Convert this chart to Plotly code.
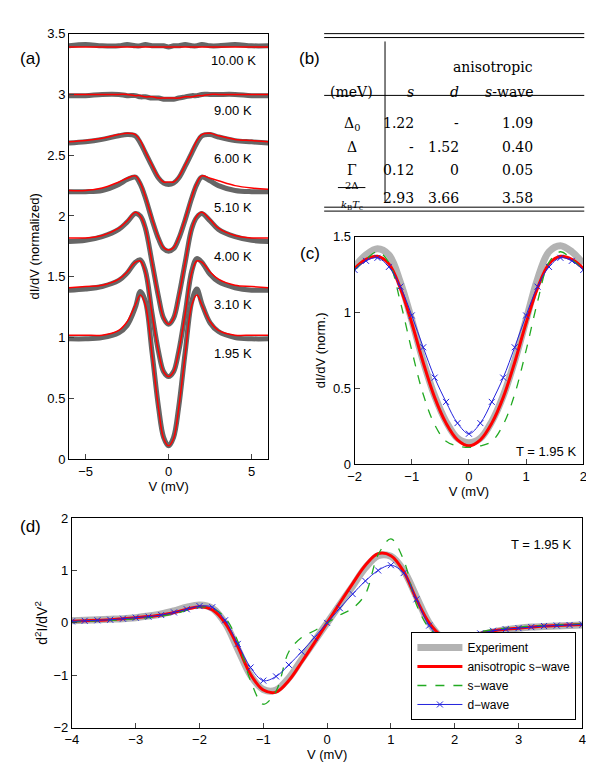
import plotly.graph_objects as go

# ---- panel (a): dI/dV spectra at several temperatures (offset) ----
va = [-6, -5, -4, -3, -2.5, -2, -1.7, -1.4, -1, -0.6, -0.3, 0, 0.3, 0.6, 1, 1.4, 1.7, 2, 2.5, 3, 4, 5, 6]
temps = ["10.00 K", "9.00 K", "6.00 K", "5.10 K", "4.00 K", "3.10 K", "1.95 K"]
label_y = [3.28, 2.87, 2.47, 2.07, 1.67, 1.27, 0.87]
exp_a = [
    [3.40, 3.41, 3.40, 3.40, 3.41, 3.40, 3.40, 3.41, 3.40, 3.40, 3.40, 3.39, 3.40, 3.40, 3.41, 3.40, 3.40, 3.41, 3.40, 3.40, 3.41, 3.40, 3.40],
    [2.99, 2.99, 3.00, 3.00, 2.99, 2.99, 2.98, 2.98, 2.97, 2.97, 2.96, 2.96, 2.96, 2.97, 2.98, 2.99, 2.99, 3.00, 3.00, 3.00, 3.00, 2.99, 2.99],
    [2.60, 2.61, 2.63, 2.66, 2.67, 2.66, 2.60, 2.52, 2.41, 2.31, 2.27, 2.26, 2.27, 2.31, 2.41, 2.52, 2.60, 2.66, 2.67, 2.65, 2.62, 2.61, 2.60],
    [2.20, 2.20, 2.21, 2.26, 2.30, 2.32, 2.26, 2.15, 1.97, 1.81, 1.73, 1.71, 1.73, 1.81, 1.97, 2.15, 2.26, 2.32, 2.29, 2.25, 2.21, 2.20, 2.20],
    [1.79, 1.80, 1.83, 1.89, 1.95, 2.02, 2.00, 1.90, 1.62, 1.33, 1.16, 1.11, 1.16, 1.33, 1.62, 1.90, 1.99, 2.02, 1.96, 1.89, 1.83, 1.80, 1.79],
    [1.39, 1.40, 1.42, 1.47, 1.53, 1.62, 1.64, 1.55, 1.20, 0.88, 0.72, 0.68, 0.72, 0.88, 1.20, 1.55, 1.65, 1.62, 1.52, 1.46, 1.41, 1.39, 1.39],
    [0.99, 0.99, 1.00, 1.04, 1.10, 1.25, 1.38, 1.30, 0.88, 0.42, 0.18, 0.11, 0.18, 0.42, 0.88, 1.30, 1.40, 1.28, 1.12, 1.05, 1.00, 0.99, 0.99],
]
fit_a = [
    [3.39] * 23,
    [3.00, 3.00, 3.00, 3.00, 3.00, 2.99, 2.99, 2.98, 2.98, 2.97, 2.97, 2.97, 2.97, 2.97, 2.98, 2.98, 2.99, 2.99, 3.00, 3.00, 3.00, 3.00, 3.00],
    [2.61, 2.62, 2.64, 2.67, 2.68, 2.67, 2.62, 2.53, 2.42, 2.32, 2.28, 2.28, 2.28, 2.32, 2.42, 2.53, 2.62, 2.67, 2.68, 2.66, 2.63, 2.62, 2.61],
    [2.21, 2.21, 2.23, 2.28, 2.31, 2.33, 2.27, 2.16, 1.98, 1.82, 1.74, 1.72, 1.74, 1.82, 1.98, 2.16, 2.27, 2.33, 2.31, 2.29, 2.25, 2.23, 2.22],
    [1.82, 1.82, 1.84, 1.90, 1.96, 2.03, 2.00, 1.90, 1.62, 1.33, 1.16, 1.11, 1.16, 1.33, 1.62, 1.90, 2.00, 2.03, 1.97, 1.90, 1.84, 1.82, 1.82],
    [1.41, 1.42, 1.43, 1.48, 1.54, 1.62, 1.63, 1.54, 1.20, 0.88, 0.72, 0.68, 0.72, 0.88, 1.20, 1.54, 1.63, 1.62, 1.54, 1.48, 1.43, 1.42, 1.41],
    [1.02, 1.02, 1.02, 1.06, 1.13, 1.27, 1.35, 1.27, 0.86, 0.41, 0.17, 0.11, 0.17, 0.41, 0.86, 1.27, 1.35, 1.27, 1.13, 1.06, 1.02, 1.02, 1.02],
]

# ---- panel (c): 1.95 K spectrum and fits ----
vc = [-2, -1.8, -1.6, -1.4, -1.2, -1, -0.8, -0.6, -0.4, -0.2, 0, 0.2, 0.4, 0.6, 0.8, 1, 1.2, 1.4, 1.6, 1.8, 2]
exp_c = [1.30, 1.38, 1.42, 1.38, 1.20, 0.95, 0.68, 0.45, 0.28, 0.17, 0.14, 0.17, 0.28, 0.45, 0.68, 0.95, 1.22, 1.40, 1.44, 1.40, 1.32]
aniso_c = [1.29, 1.35, 1.37, 1.32, 1.16, 0.93, 0.67, 0.44, 0.27, 0.16, 0.12, 0.16, 0.27, 0.44, 0.67, 0.93, 1.16, 1.32, 1.37, 1.35, 1.29]
swave_c = [1.28, 1.35, 1.40, 1.33, 1.07, 0.75, 0.46, 0.26, 0.15, 0.12, 0.11, 0.12, 0.15, 0.26, 0.46, 0.75, 1.07, 1.33, 1.40, 1.35, 1.28]
dwave_c = [1.28, 1.34, 1.36, 1.30, 1.17, 0.98, 0.77, 0.57, 0.41, 0.27, 0.20, 0.27, 0.41, 0.57, 0.77, 0.98, 1.17, 1.30, 1.36, 1.34, 1.28]

# ---- panel (d): d2I/dV2 ----
vd = [-4, -3.8, -3.6, -3.4, -3.2, -3, -2.8, -2.6, -2.4, -2.2, -2, -1.8, -1.6, -1.4, -1.2, -1, -0.8, -0.6, -0.4, -0.2, 0,
      0.2, 0.4, 0.6, 0.8, 1, 1.2, 1.4, 1.6, 1.8, 2, 2.2, 2.4, 2.6, 2.8, 3, 3.2, 3.4, 3.6, 3.8, 4]
exp_d = [0.04, 0.05, 0.06, 0.07, 0.08, 0.10, 0.13, 0.17, 0.23, 0.30, 0.34, 0.28, 0.0, -0.5, -1.0, -1.27, -1.28, -1.05, -0.7, -0.35, 0,
         0.35, 0.7, 1.05, 1.28, 1.27, 1.0, 0.5, 0.0, -0.28, -0.34, -0.30, -0.23, -0.17, -0.13, -0.10, -0.08, -0.07, -0.06, -0.05, -0.04]
aniso_d = [0.03, 0.04, 0.05, 0.06, 0.08, 0.10, 0.12, 0.15, 0.20, 0.26, 0.31, 0.25, 0.0, -0.45, -0.98, -1.28, -1.32, -1.10, -0.75, -0.38, 0,
           0.38, 0.75, 1.10, 1.32, 1.28, 0.98, 0.45, 0.0, -0.25, -0.31, -0.26, -0.20, -0.15, -0.12, -0.10, -0.08, -0.06, -0.05, -0.04, -0.03]
swave_d = [0.02, 0.03, 0.04, 0.05, 0.06, 0.08, 0.10, 0.13, 0.17, 0.24, 0.30, 0.28, 0.10, -0.35, -1.1, -1.55, -1.30, -0.55, -0.28, -0.15, 0,
           0.15, 0.28, 0.55, 1.30, 1.60, 1.20, 0.35, -0.10, -0.28, -0.30, -0.24, -0.17, -0.13, -0.10, -0.08, -0.06, -0.05, -0.04, -0.03, -0.02]
dwave_d = [0.03, 0.04, 0.05, 0.06, 0.08, 0.10, 0.12, 0.15, 0.20, 0.26, 0.32, 0.30, 0.05, -0.40, -0.85, -1.10, -1.02, -0.80, -0.55, -0.28, 0,
           0.28, 0.55, 0.80, 1.00, 1.10, 0.95, 0.45, -0.05, -0.30, -0.32, -0.26, -0.20, -0.15, -0.12, -0.10, -0.08, -0.06, -0.05, -0.04, -0.03]

# ---- panel (b): table ----
tbl_cols = ["(meV)", "<i>s</i>", "<i>d</i>", "<i>s</i>-wave"]
tbl_rows = ["Δ<sub>0</sub>", "Δ", "Γ"]
tbl_vals = [["1.22", "-", "1.09"], ["-", "1.52", "0.40"], ["0.12", "0", "0.05"], ["2.93", "3.66", "3.58"]]

W, H = 594.0, 769.0


# pixel positions measured on the target -> paper coords
def px(p):
    return p / W


def py(p):
    return 1 - p / H


GRAY = "#666666"
LGRAY = "#b3b3b3"
fig = go.Figure()

for i, t in enumerate(temps):
    fig.add_trace(go.Scatter(x=va, y=exp_a[i], mode="lines", line=dict(color=GRAY, width=5, shape="spline"),
                             showlegend=False, xaxis="x", yaxis="y"))
    fig.add_trace(go.Scatter(x=va, y=fit_a[i], mode="lines", line=dict(color="red", width=1.5, shape="spline"),
                             showlegend=False, xaxis="x", yaxis="y"))
    fig.add_annotation(x=3.9, y=label_y[i], xref="x", yref="y", text=t, showarrow=False,
                       font=dict(size=13, color="black"), bgcolor="white")

fig.add_trace(go.Scatter(x=vc, y=exp_c, mode="lines", line=dict(color=LGRAY, width=7, shape="spline"),
                         showlegend=False, xaxis="x2", yaxis="y2"))
fig.add_trace(go.Scatter(x=vc, y=aniso_c, mode="lines", line=dict(color="red", width=3, shape="spline"),
                         showlegend=False, xaxis="x2", yaxis="y2"))
fig.add_trace(go.Scatter(x=vc, y=swave_c, mode="lines", line=dict(color="#22aa22", width=1.3, dash="dash", shape="spline"),
                         showlegend=False, xaxis="x2", yaxis="y2"))
fig.add_trace(go.Scatter(x=vc, y=dwave_c, mode="lines+markers", line=dict(color="#2222dd", width=1, shape="spline"),
                         marker=dict(symbol="x-thin", size=6, line=dict(color="#2222dd", width=1)),
                         showlegend=False, xaxis="x2", yaxis="y2"))

fig.add_trace(go.Scatter(x=vd, y=exp_d, mode="lines", name="Experiment", line=dict(color=LGRAY, width=7, shape="spline"),
                         xaxis="x3", yaxis="y3"))
fig.add_trace(go.Scatter(x=vd, y=aniso_d, mode="lines", name="anisotropic s−wave", line=dict(color="red", width=3, shape="spline"),
                         xaxis="x3", yaxis="y3"))
fig.add_trace(go.Scatter(x=vd, y=swave_d, mode="lines", name="s−wave", line=dict(color="#22aa22", width=1.3, dash="dash", shape="spline"),
                         xaxis="x3", yaxis="y3"))
fig.add_trace(go.Scatter(x=vd, y=dwave_d, mode="lines+markers", name="d−wave", line=dict(color="#2222dd", width=1, shape="spline"),
                         marker=dict(symbol="x-thin", size=6, line=dict(color="#2222dd", width=1)),
                         xaxis="x3", yaxis="y3"))

ax = dict(showline=True, mirror=True, linecolor="black", linewidth=1, ticks="inside", ticklen=5,
          showgrid=False, zeroline=False, tickfont=dict(size=13, color="black"))
fig.update_layout(
    width=594, height=769, plot_bgcolor="white", paper_bgcolor="white",
    margin=dict(l=0, r=0, t=0, b=0),
    font=dict(family="Liberation Sans, Arial", color="black"),
    xaxis=dict(ax, domain=[px(55), px(258)], range=[-6, 6], tickvals=[-5, 0, 5], ticktext=["−5", "0", "5"],
               title=dict(text="V (mV)", font=dict(size=13), standoff=4), anchor="y"),
    yaxis=dict(ax, domain=[py(453), py(19)], range=[0, 3.5], dtick=0.5,
               title=dict(text="dI/dV (normalized)", font=dict(size=13), standoff=4), anchor="x"),
    xaxis2=dict(ax, domain=[px(346), px(579)], range=[-2, 2], tickvals=[-2, -1, 0, 1, 2], ticktext=["−2", "−1", "0", "1", "2"],
                title=dict(text="V (mV)", font=dict(size=13), standoff=4), anchor="y2"),
    yaxis2=dict(ax, domain=[py(458), py(226)], range=[0, 1.5], tickvals=[0, 0.5, 1, 1.5],
                title=dict(text="dI/dV (norm.)", font=dict(size=13), standoff=4), anchor="x2"),
    xaxis3=dict(ax, domain=[px(58), px(578)], range=[-4, 4],
                tickvals=[-4, -3, -2, -1, 0, 1, 2, 3, 4], ticktext=["−4", "−3", "−2", "−1", "0", "1", "2", "3", "4"],
                title=dict(text="V (mV)", font=dict(size=13), standoff=2), anchor="y3"),
    yaxis3=dict(ax, domain=[py(727), py(513)], range=[-2, 2], tickvals=[-2, -1, 0, 1, 2], ticktext=["−2", "−1", "0", "1", "2"],
                title=dict(text="d<sup>2</sup>I/dV<sup>2</sup>", font=dict(size=14), standoff=2), anchor="x3"),
    legend=dict(x=px(572), y=py(719), xanchor="right", yanchor="bottom", bordercolor="black", borderwidth=1,
                bgcolor="white", font=dict(size=12), tracegroupgap=0, itemwidth=45),
)

# panel labels and temperature notes
for txt, x, y in [("(a)", 3, 44), ("(b)", 287, 44), ("(c)", 288, 243), ("(d)", 3, 522)]:
    fig.add_annotation(x=px(x), y=py(y), xref="paper", yref="paper", text=txt, showarrow=False,
                       xanchor="left", yanchor="middle", font=dict(size=17))
fig.add_annotation(x=1.9, y=0.08, xref="x2", yref="y2", text="T = 1.95 K", showarrow=False,
                   xanchor="right", yanchor="middle", font=dict(size=13))
fig.add_annotation(x=3.85, y=1.5, xref="x3", yref="y3", text="T = 1.95 K", showarrow=False,
                   xanchor="right", yanchor="middle", font=dict(size=13))

# table (b)
SER = dict(family="DejaVu Serif", size=14, color="black")
for yy in [19, 23, 196, 200]:
    fig.add_shape(type="line", xref="paper", yref="paper", x0=px(315), x1=px(580), y0=py(yy), y1=py(yy),
                  line=dict(color="black", width=1))
fig.add_shape(type="line", xref="paper", yref="paper", x0=px(315), x1=px(580), y0=py(82), y1=py(82),
              line=dict(color="black", width=1))
fig.add_shape(type="line", xref="paper", yref="paper", x0=px(377), x1=px(377), y0=py(27), y1=py(190),
              line=dict(color="black", width=1))
colx = [343, 409, 454, 530]
fig.add_annotation(x=px(530), y=py(43), xref="paper", yref="paper", text="anisotropic", showarrow=False, font=SER)
for cx, c in zip(colx, tbl_cols):
    fig.add_annotation(x=px(cx), y=py(68), xref="paper", yref="paper", text=c, showarrow=False, font=SER)
rowy = [100, 124, 148, 176]
for ry, r in zip(rowy, tbl_rows):
    fig.add_annotation(x=px(343), y=py(ry), xref="paper", yref="paper", text=r, showarrow=False, font=SER)
fig.add_annotation(x=px(343), y=py(166), xref="paper", yref="paper", text="2Δ", showarrow=False,
                   font=dict(family="DejaVu Serif", size=10))
fig.add_annotation(x=px(343), y=py(186), xref="paper", yref="paper", text="<i>k</i><sub>B</sub><i>T</i><sub>c</sub>",
                   showarrow=False, font=dict(family="DejaVu Serif", size=10))
fig.add_shape(type="line", xref="paper", yref="paper", x0=px(329), x1=px(357), y0=py(176), y1=py(176),
              line=dict(color="black", width=1))
for ry, row in zip(rowy, tbl_vals):
    for cx, v in zip(colx[1:], row):
        fig.add_annotation(x=px(cx), y=py(ry), xref="paper", yref="paper", text=v, showarrow=False, font=SER)

fig.write_html("out.html")
